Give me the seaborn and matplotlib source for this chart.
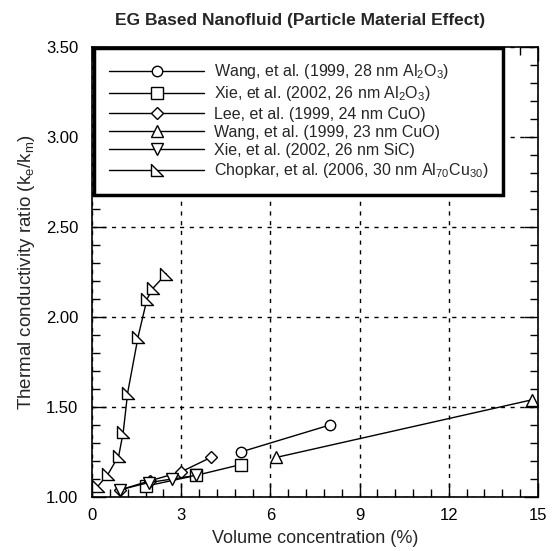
import numpy as np
import pandas as pd
import matplotlib
matplotlib.use("Agg")
import matplotlib.pyplot as plt
from matplotlib.path import Path
from matplotlib.ticker import MultipleLocator, FormatStrFormatter
import seaborn as sns

sns.set_theme(style="ticks")
plt.rcParams['font.family'] = ['Liberation Sans', 'DejaVu Sans']
plt.rcParams['mathtext.fontset'] = 'custom'
plt.rcParams['mathtext.rm'] = 'Liberation Sans'
plt.rcParams['mathtext.it'] = 'Liberation Sans'

labels = [
    "Wang, et al. (1999, 28 nm Al$_2$O$_3$)",
    "Xie, et al. (2002, 26 nm Al$_2$O$_3$)",
    "Lee, et al. (1999, 24 nm CuO)",
    "Wang, et al. (1999, 23 nm CuO)",
    "Xie, et al. (2002, 26 nm SiC)",
    "Chopkar, et al. (2006, 30 nm Al$_{70}$Cu$_{30}$)",
]

wang_al_x = [5.0, 8.0]
wang_al_y = [1.25, 1.40]
xie_al_x = [1.8, 3.5, 5.0]
xie_al_y = [1.06, 1.12, 1.18]
lee_cuo_x = [0.95, 1.95, 3.0, 4.0]
lee_cuo_y = [1.04, 1.09, 1.14, 1.22]
wang_cuo_x = [6.2, 14.8]
wang_cuo_y = [1.22, 1.54]
xie_sic_x = [0.95, 1.9, 2.7, 3.5]
xie_sic_y = [1.04, 1.08, 1.10, 1.12]
chop_x = [0.2, 0.55, 0.9, 1.05, 1.2, 1.55, 1.85, 2.05, 2.5]
chop_y = [1.06, 1.13, 1.23, 1.36, 1.58, 1.89, 2.10, 2.16, 2.24]

series = [(wang_al_x, wang_al_y), (xie_al_x, xie_al_y), (lee_cuo_x, lee_cuo_y),
          (wang_cuo_x, wang_cuo_y), (xie_sic_x, xie_sic_y), (chop_x, chop_y)]

rows = []
for lab, (xs, ys) in zip(labels, series):
    for x, y in zip(xs, ys):
        rows.append({"series": lab, "x": x, "y": y})
df = pd.DataFrame(rows)

corner = Path([(-1, 1), (-1, -1), (1, -1), (-1, 1)],
              [Path.MOVETO, Path.LINETO, Path.LINETO, Path.CLOSEPOLY])
markers = dict(zip(labels, ['o', 's', 'D', '^', 'v', corner]))
sizes = dict(zip(labels, [7.5, 8, 6, 9, 9, 9]))

fig = plt.figure(figsize=(5.52, 5.51), dpi=100)
ax = fig.add_axes([0.1667, 0.0980, 0.8079, 0.8167])

for lab in labels:
    sub = df[df.series == lab]
    sns.lineplot(data=sub, x="x", y="y", ax=ax, color="black", lw=1.0,
                 marker=markers[lab], markersize=sizes[lab],
                 markerfacecolor="white", markeredgecolor="black",
                 markeredgewidth=1.0, label=lab, sort=False, estimator=None)

ax.set_xlim(0, 15)
ax.set_ylim(1.0, 3.5)
ax.xaxis.set_major_locator(MultipleLocator(3))
ax.xaxis.set_minor_locator(MultipleLocator(0.6))
ax.yaxis.set_major_locator(MultipleLocator(0.5))
ax.yaxis.set_minor_locator(MultipleLocator(0.1))
ax.yaxis.set_major_formatter(FormatStrFormatter('%.2f'))
ax.tick_params(which='both', direction='in', top=True, right=True, colors='black',
               labelsize=12)
ax.tick_params(axis='y', which='major', pad=10)
ax.tick_params(axis='x', which='major', pad=8)
ax.tick_params(which='major', length=10, width=1)
ax.tick_params(which='minor', length=6, width=1)
ax.grid(True, which='major', color='black', linestyle=(0, (3, 4)), linewidth=1)
for s in ax.spines.values():
    s.set_color('black')
    s.set_linewidth(1.2)

ax.set_xlabel("Volume concentration (%)", fontsize=13, labelpad=5)
ax.set_ylabel("Thermal conductivity ratio (k$_e$/k$_m$)", fontsize=13.5, labelpad=6)
ax.set_title("EG Based Nanofluid (Particle Material Effect)", fontsize=12.5,
             fontweight='bold', pad=16, x=0.466)

leg = ax.legend(loc='upper left', bbox_to_anchor=(0.005, 0.998), fontsize=11.5,
                handlelength=6.0, handletextpad=0.6, labelspacing=0.2,
                borderpad=0.9, fancybox=False, framealpha=1, edgecolor='black',
                borderaxespad=0, markerscale=1.0)
leg.get_frame().set_linewidth(2.5)

fig.savefig("out.png", dpi=100)
